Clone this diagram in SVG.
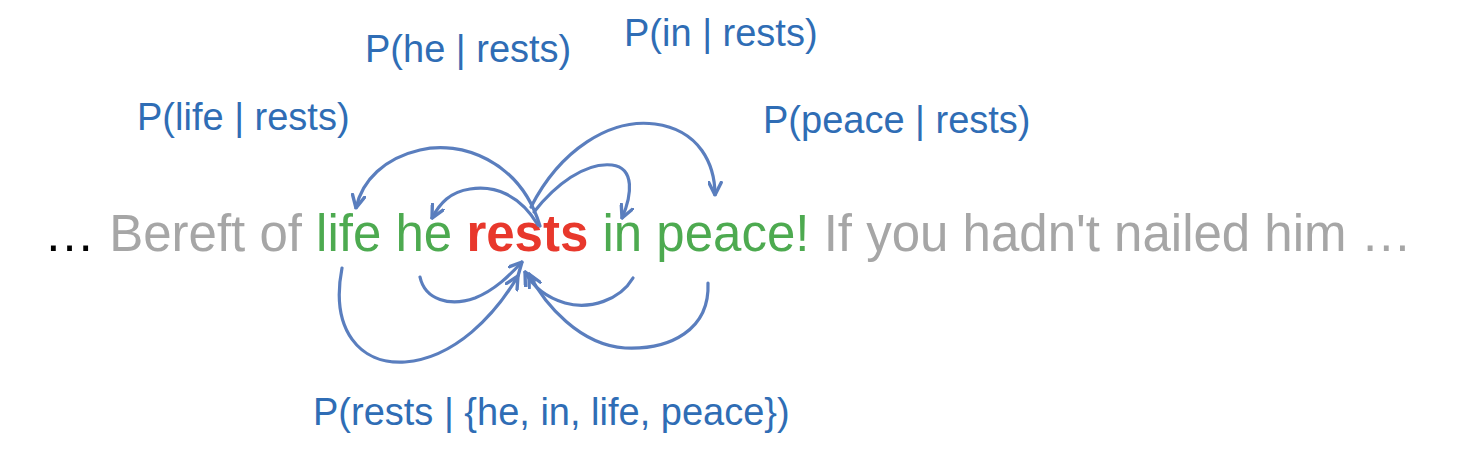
<svg xmlns="http://www.w3.org/2000/svg" width="1476" height="470" viewBox="0 0 1476 470">
<style>
.lbl{font-family:"Liberation Sans",Arial,sans-serif;font-size:38px;fill:#2F6DB5}
.main{font-family:"Liberation Sans",Arial,sans-serif;font-size:51px}
.c{fill:none;stroke:#5A7EBE;stroke-width:3.2;stroke-linecap:round}
</style>
<defs>
<marker id="ah" viewBox="0 0 12 12" refX="11" refY="6" markerWidth="15" markerHeight="15" markerUnits="userSpaceOnUse" orient="auto">
<path d="M1,1 L11,6 L1,11" fill="none" stroke="#5A7EBE" stroke-width="2.7" stroke-linecap="round" stroke-linejoin="round"/>
</marker>
</defs>
<rect width="1476" height="470" fill="#fff"/>
<g id="sentence">
<text class="main" x="44" y="251"><tspan fill="#000">…</tspan><tspan fill="#A6A6A6"> Bereft of </tspan><tspan fill="#4DAA50">life he </tspan><tspan fill="#E8382C" font-weight="bold">rests</tspan><tspan fill="#4DAA50"> in peace!</tspan><tspan fill="#A6A6A6"> If you hadn't nailed him …</tspan></text>
</g>
<g id="label-life"><text class="lbl" x="137" y="130">P(life | rests)</text></g>
<g id="label-he"><text class="lbl" x="365" y="62">P(he | rests)</text></g>
<g id="label-in"><text class="lbl" x="624" y="46">P(in | rests)</text></g>
<g id="label-peace"><text class="lbl" x="763" y="133">P(peace | rests)</text></g>
<g id="label-rests"><text class="lbl" x="313" y="425">P(rests | {he, in, life, peace})</text></g>
<g id="connectors">
<path class="c" marker-end="url(#ah)" d="M540,226 C520,160 460,140 420,150 C385,158 362,180 356,208"/>
<path class="c" marker-end="url(#ah)" d="M538,225 C520,195 495,185 470,189 C450,192 440,203 432,218"/>
<path class="c" marker-end="url(#ah)" d="M534,212 C555,185 585,162 612,165 C635,168 632,195 622,218"/>
<path class="c" marker-end="url(#ah)" d="M531,207 C560,150 610,118 655,124 C700,130 715,165 715,195"/>
<path class="c" marker-end="url(#ah)" d="M342,268 C330,330 360,365 405,362 C455,358 495,315 518,276"/>
<path class="c" marker-end="url(#ah)" d="M420,277 C425,300 450,307 475,298 C495,290 510,275 522,262"/>
<path class="c" marker-end="url(#ah)" d="M633,278 C620,300 590,310 565,303 C545,297 532,285 525,272"/>
<path class="c" marker-end="url(#ah)" d="M708,283 C710,330 670,350 625,348 C580,345 545,305 529,274"/>
</g>
</svg>
